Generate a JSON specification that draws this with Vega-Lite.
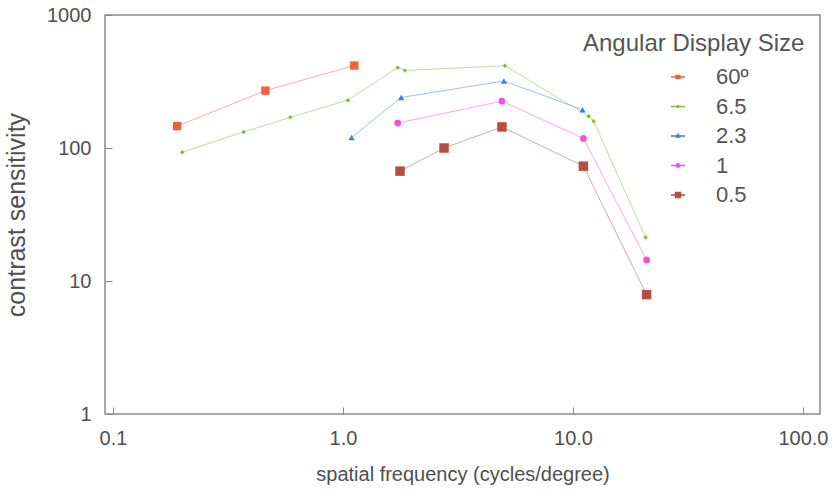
{
  "$schema": "https://vega.github.io/schema/vega-lite/v6.json",
  "width": 715,
  "height": 399,
  "autosize": {"type": "none"},
  "padding": {"left": 105, "top": 15, "right": 20, "bottom": 85},
  "background": "white",
  "config": {
    "font": "Liberation Sans",
    "view": {"stroke": "#8a8a8a", "strokeWidth": 1.5},
    "axis": {
      "grid": false,
      "domain": false,
      "tickColor": "#8a8a8a",
      "tickWidth": 1,
      "labelColor": "#505050",
      "titleColor": "#505050",
      "labelFont": "Liberation Sans",
      "titleFont": "Liberation Sans",
      "labelFontSize": 20,
      "titleFontSize": 20,
      "titleFontWeight": "normal"
    }
  },
  "datasets": {
    "csf": [
      {"series": "60º", "sf": 0.19, "cs": 146},
      {"series": "60º", "sf": 0.46, "cs": 270},
      {"series": "60º", "sf": 1.12, "cs": 417},
      {"series": "6.5", "sf": 0.2, "cs": 93},
      {"series": "6.5", "sf": 0.37, "cs": 132},
      {"series": "6.5", "sf": 0.59, "cs": 170},
      {"series": "6.5", "sf": 1.05, "cs": 229},
      {"series": "6.5", "sf": 1.73, "cs": 402},
      {"series": "6.5", "sf": 1.86, "cs": 383},
      {"series": "6.5", "sf": 5.06, "cs": 416},
      {"series": "6.5", "sf": 11.7, "cs": 173},
      {"series": "6.5", "sf": 12.3, "cs": 159},
      {"series": "6.5", "sf": 20.7, "cs": 21.2},
      {"series": "2.3", "sf": 1.09, "cs": 120},
      {"series": "2.3", "sf": 1.79, "cs": 240},
      {"series": "2.3", "sf": 5.01, "cs": 319},
      {"series": "2.3", "sf": 11.0, "cs": 194},
      {"series": "1", "sf": 1.73, "cs": 154},
      {"series": "1", "sf": 4.91, "cs": 225},
      {"series": "1", "sf": 11.1, "cs": 118},
      {"series": "1", "sf": 20.9, "cs": 14.4},
      {"series": "0.5", "sf": 1.77, "cs": 67},
      {"series": "0.5", "sf": 2.75, "cs": 100},
      {"series": "0.5", "sf": 4.91, "cs": 144},
      {"series": "0.5", "sf": 11.1, "cs": 73},
      {"series": "0.5", "sf": 20.9, "cs": 7.9}
    ]
  },
  "data": {"name": "csf"},
  "encoding": {
    "x": {
      "field": "sf",
      "type": "quantitative",
      "scale": {"type": "log", "domain": [0.0923, 118.6], "nice": false},
      "axis": {
        "title": "spatial frequency (cycles/degree)",
        "values": [0.1, 1, 10, 100],
        "labelExpr": "datum.value < 0.5 ? '0.1' : format(datum.value, '.1f')",
        "tickSize": -7,
        "labelPadding": 21,
        "titlePadding": 16
      }
    },
    "y": {
      "field": "cs",
      "type": "quantitative",
      "scale": {"type": "log", "domain": [1, 1000], "nice": false},
      "axis": {
        "title": "contrast sensitivity",
        "titleFontSize": 25,
        "values": [1, 10, 100, 1000],
        "format": "d",
        "tickSize": -7,
        "labelPadding": 21,
        "titlePadding": 17
      }
    },
    "color": {
      "field": "series",
      "type": "nominal",
      "scale": {
        "domain": ["60º", "6.5", "2.3", "1", "0.5"],
        "range": ["#f0603f", "#7cbc3c", "#3d80e0", "#f24fe0", "#b5503f"]
      },
      "legend": null
    }
  },
  "layer": [
    {
      "mark": {"type": "line", "strokeWidth": 1, "strokeOpacity": 0.5},
      "encoding": {
        "color": {
          "field": "series",
          "type": "nominal",
          "scale": {
            "domain": ["60º", "6.5", "2.3", "1", "0.5"],
            "range": ["#f0603f", "#7cbc3c", "#3d80e0", "#f24fe0", "#b5503f"]
          },
          "legend": {
            "title": "Angular Display Size",
            "orient": "none",
            "legendX": 478,
            "legendY": 17,
            "titleFont": "Liberation Sans",
            "titleFontSize": 24,
            "titleFontWeight": "normal",
            "titleColor": "#555555",
            "titleLimit": 400,
            "titlePadding": 6,
            "labelFont": "Liberation Sans",
            "labelFontSize": 22,
            "labelColor": "#555555",
            "labelOffset": 23,
            "symbolOffset": 80,
            "symbolSize": 784,
            "symbolStrokeWidth": 1.5,
            "symbolOpacity": 1,
            "rowPadding": 3.5
          }
        },
        "detail": {"field": "series"}
      }
    },
    {
      "transform": [{"filter": "datum.series === '60º'"}],
      "mark": {"type": "point", "filled": true, "opacity": 1, "shape": "square", "size": 70}
    },
    {
      "transform": [{"filter": "datum.series === '6.5'"}],
      "mark": {"type": "point", "filled": true, "opacity": 1, "shape": "diamond", "size": 20}
    },
    {
      "transform": [{"filter": "datum.series === '2.3'"}],
      "mark": {"type": "point", "filled": true, "opacity": 1, "shape": "triangle-up", "size": 40}
    },
    {
      "transform": [{"filter": "datum.series === '1'"}],
      "mark": {"type": "point", "filled": true, "opacity": 1, "shape": "circle", "size": 45}
    },
    {
      "transform": [{"filter": "datum.series === '0.5'"}],
      "mark": {"type": "point", "filled": true, "opacity": 1, "shape": "square", "size": 90}
    },
    {
      "transform": [{"filter": "false"}],
      "mark": {"type": "point", "filled": true, "opacity": 1},
      "encoding": {
        "shape": {
          "field": "series",
          "type": "nominal",
          "scale": {
            "domain": ["60º", "6.5", "2.3", "1", "0.5"],
            "range": [
              "M-0.5,0H0.5M-0.14,-0.11H0.14V0.11H-0.14Z",
              "M-0.5,0H0.5M0,-0.07L0.07,0L0,0.07L-0.07,0Z",
              "M-0.5,0H0.5M0,-0.12L0.11,0.08H-0.11Z",
              "M-0.5,0H0.5M-0.12,0A0.12,0.12 0 1,0 0.12,0A0.12,0.12 0 1,0 -0.12,0Z",
              "M-0.5,0H0.5M-0.18,-0.17H0.18V0.17H-0.18Z"
            ]
          },
          "legend": null
        }
      }
    }
  ]
}
